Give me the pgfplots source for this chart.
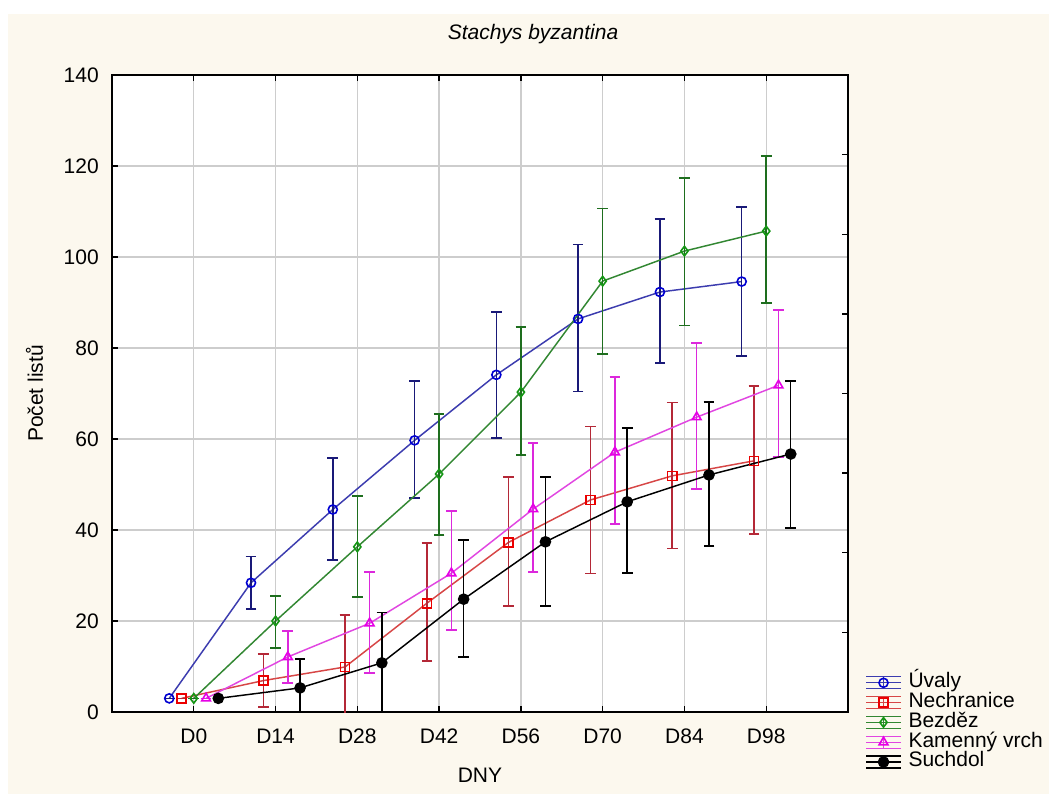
\documentclass[border=0pt]{standalone}
\usepackage{fontspec}
\setmainfont{Liberation Sans}
\usepackage{pgfplots}
\usepackage{pgfplotstable}
\pgfplotsset{compat=1.18}

\definecolor{cream}{RGB}{252,248,238}
\definecolor{gridgray}{RGB}{205,205,205}
\definecolor{uvline}{RGB}{60,60,175}
\definecolor{uverr}{RGB}{25,25,120}
\definecolor{uvmark}{RGB}{0,0,210}
\definecolor{neline}{RGB}{215,70,70}
\definecolor{neerr}{RGB}{180,40,55}
\definecolor{nemark}{RGB}{235,0,0}
\definecolor{beline}{RGB}{50,135,50}
\definecolor{beerr}{RGB}{30,110,30}
\definecolor{bemark}{RGB}{20,150,20}
\definecolor{kaline}{RGB}{225,70,225}
\definecolor{kaerr}{RGB}{220,40,220}
\definecolor{kamark}{RGB}{230,0,230}

\newcommand\chartfont{\fontsize{15.75}{18}\selectfont}
\newcommand\legfont{\fontsize{15.75}{18}\selectfont}

% x = day index + small offset per site, y = mean, ep/em = error bar up/down
\pgfplotstableread{
x y ep em
-0.3 3 0 0
0.7 28.4 5.8 5.8
1.7 44.5 11.3 11.1
2.7 59.7 13.0 12.7
3.7 74.1 13.8 13.9
4.7 86.4 16.4 16.0
5.7 92.3 16.1 15.6
6.7 94.6 16.4 16.4
}\uvaly
\pgfplotstableread{
x y ep em
-0.15 3 0 0
0.85 6.9 5.8 5.8
1.85 9.9 11.4 11.4
2.85 23.9 13.2 12.7
3.85 37.3 14.3 14.0
4.85 46.6 16.2 16.2
5.85 51.9 16.1 16.0
6.85 55.2 16.4 16.1
}\nechranice
\pgfplotstableread{
x y ep em
0 3 0 0
1 20.0 5.5 5.9
2 36.3 11.2 11.0
3 52.3 13.2 13.4
4 70.3 14.3 13.8
5 94.7 16.0 16.0
6 101.3 16.1 16.3
7 105.7 16.5 15.8
}\bezdez
\pgfplotstableread{
x y ep em
0.15 3 0 0
1.15 12.1 5.7 5.7
2.15 19.5 11.3 10.9
3.15 30.5 13.7 12.5
4.15 44.6 14.5 13.8
5.15 57.1 16.5 15.8
6.15 64.8 16.3 15.8
7.15 71.8 16.6 15.8
}\kamenny
\pgfplotstableread{
x y ep em
0.3 3 0 0
1.3 5.3 6.3 6.3
2.3 10.8 11.1 11.1
3.3 24.8 13.0 12.7
4.3 37.4 14.2 14.1
5.3 46.2 16.2 15.7
6.3 52.1 16.0 15.6
7.3 56.7 16.0 16.3
}\suchdol

\begin{document}
\begin{tikzpicture}[x=0.75pt,y=0.75pt]
\fill[white] (0,0) rectangle (1049,794);
\fill[cream] (8,0) rectangle (1049,780);

\begin{axis}[
  at={(84pt,61.5pt)}, anchor=south west,
  width=552pt, height=477.75pt, scale only axis,
  axis background/.style={fill=white},
  xmin=-1, xmax=8, ymin=0, ymax=140,
  xtick={0,...,7},
  xticklabels={D0,D14,D28,D42,D56,D70,D84,D98},
  ytick={0,20,...,140},
  xtick pos=both, ytick pos=left,
  tick align=inside,
  major tick length=4.5pt,
  tick style={black, line width=1pt},
  axis line style={line width=1.5pt},
  grid=major,
  major grid style={gridgray, line width=1pt},
  font=\chartfont,
  /pgf/number format/assume math mode=true,
  xticklabel style={anchor=base, yshift=-23.25pt},
  yticklabel style={anchor=east, inner sep=0pt, xshift=-9.75pt},
  title={\itshape Stachys byzantina},
  title style={at={(axis description cs:0.572,1)}, anchor=base, yshift=20.25pt, font=\chartfont},
  xlabel={DNY},
  xlabel style={at={(axis description cs:0.5,0)}, anchor=base, yshift=-52.5pt},
  ylabel={Počet listů},
  ylabel style={at={(axis description cs:0,0.5)}, anchor=base, yshift=51.75pt},
  legend style={at={(axis description cs:1.018,0.066)}, anchor=north west,
    draw=none, fill=none, font=\legfont, row sep=0pt, column sep=5pt,
    nodes={inner sep=0.25pt, text height=10.9pt, text depth=3.45pt}},
  legend cell align=left,
  legend image code/.code={%
    \draw[#1, mark=none, line width=1pt]
      (0pt,4.5pt) -- (26pt,4.5pt)
      (0pt,0pt) -- (26pt,0pt)
      (0pt,-4.5pt) -- (26pt,-4.5pt)
      (13pt,-4.5pt) -- (13pt,4.5pt);
    \draw[#1, only marks] plot coordinates {(13pt,0pt)};
  },
]
\addplot[uvline, line width=1.1pt, mark=o, mark size=3.4pt,
  mark options={draw=uvmark, line width=1.2pt, solid},
  error bars/.cd, y dir=both, y explicit,
  error bar style={line width=1.1pt, uverr},
  error mark options={rotate=90, mark size=4pt, line width=1.1pt, uverr}]
  table[x=x, y=y, y error plus=ep, y error minus=em] {\uvaly};
\addlegendentry{Úvaly}
\addplot[neline, line width=1.1pt, mark=square, mark size=3.4pt,
  mark options={draw=nemark, line width=1.2pt, solid},
  error bars/.cd, y dir=both, y explicit,
  error bar style={line width=1.1pt, neerr},
  error mark options={rotate=90, mark size=4pt, line width=1.1pt, neerr}]
  table[x=x, y=y, y error plus=ep, y error minus=em] {\nechranice};
\addlegendentry{Nechranice}
\addplot[beline, line width=1.1pt, mark=diamond, mark size=3.6pt,
  mark options={draw=bemark, line width=1.2pt, solid},
  error bars/.cd, y dir=both, y explicit,
  error bar style={line width=1.1pt, beerr},
  error mark options={rotate=90, mark size=4pt, line width=1.1pt, beerr}]
  table[x=x, y=y, y error plus=ep, y error minus=em] {\bezdez};
\addlegendentry{Bezděz}
\addplot[kaline, line width=1.1pt, mark=triangle, mark size=3.8pt,
  mark options={draw=kamark, line width=1.2pt, solid},
  error bars/.cd, y dir=both, y explicit,
  error bar style={line width=1.1pt, kaerr},
  error mark options={rotate=90, mark size=4pt, line width=1.1pt, kaerr}]
  table[x=x, y=y, y error plus=ep, y error minus=em] {\kamenny};
\addlegendentry{Kamenný vrch}
\addplot[black, line width=1.1pt, mark=*, mark size=3.8pt,
  mark options={fill=black, solid},
  error bars/.cd, y dir=both, y explicit,
  error bar style={line width=1.1pt, black},
  error mark options={rotate=90, mark size=4pt, line width=1.1pt, black}]
  table[x=x, y=y, y error plus=ep, y error minus=em] {\suchdol};
\addlegendentry{Suchdol}
\end{axis}

% second scale: only the unlabelled ticks on the right-hand frame
\begin{axis}[
  at={(84pt,61.5pt)}, anchor=south west,
  width=552pt, height=477.75pt, scale only axis,
  xmin=-1, xmax=8, ymin=0, ymax=8,
  hide x axis,
  axis y line*=right,
  ytick={1,...,7}, yticklabels={},
  tick align=inside,
  major tick length=4.5pt,
  tick style={black, line width=1pt},
  axis line style={line width=1.5pt},
]
\addplot[draw=none] coordinates {(0,0)};
\end{axis}
\end{tikzpicture}
\end{document}
